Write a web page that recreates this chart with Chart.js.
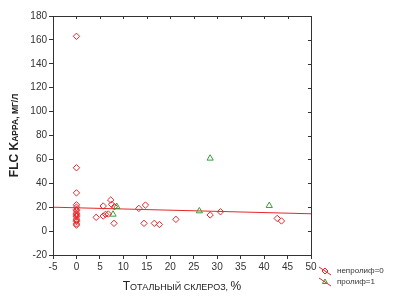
<!DOCTYPE html>
<html>
<head>
<meta charset="utf-8">
<script src="https://cdn.jsdelivr.net/npm/chart.js@4"></script>
<style>
  html, body { margin: 0; padding: 0; background: #fff; }
  #wrap { width: 399px; height: 302px; }
</style>
</head>
<body>
<div id="wrap"><canvas id="myChart"></canvas></div>
<script>
// непролиф=0 (red diamonds)
const nonX = [0, 0, 0, 0, 0, 0, 0, 0, 0, 0, 0, 0, 0, 0, 0, 0,
  4.2, 5.7, 5.7, 6.2, 6.8, 7.3, 7.5, 8.1, 8.0,
  13.3, 14.7, 14.4, 16.6, 17.7, 21.2, 28.5, 30.7, 42.8, 43.7];
const nonY = [163, 53, 32, 22, 20, 18, 17, 15, 14, 13, 12, 10, 9, 8, 6, 5,
  11.5, 21, 12.6, 14, 14.3, 26, 22.4, 20.4, 6.5,
  19, 21.8, 6.5, 6.5, 5.5, 9.8, 13.5, 16.2, 10.6, 8.5];
// пролиф=1 (green triangles)
const proX = [7.8, 8.6, 26.2, 28.5, 41.1];
const proY = [14, 20.4, 16.8, 60.9, 21.3];
// regression line
const fitX = [-5, 50];
const fitY = [20, 14.5];

const xTicks = { min: -5, max: 50, step: 5 };
const yTicks = { min: -20, max: 180, step: 20 };

const RED = '#e8262a';
const GREEN = '#3c9a3c';
const FONT = 'Arial, "Liberation Sans", sans-serif';

const toPts = (xs, ys) => xs.map((x, i) => ({ x: x, y: ys[i] }));

// small-caps text: [text, big?] segments
function smallCaps(ctx, parts, big, small, weight) {
  const segs = parts.map(p => ({ t: p[0], f: `${weight} ${p[1] ? big : small}px ${FONT}` }));
  let w = 0;
  segs.forEach(s => { ctx.font = s.f; s.w = ctx.measureText(s.t).width; w += s.w; });
  let x = -w / 2;
  ctx.textAlign = 'left';
  ctx.textBaseline = 'alphabetic';
  segs.forEach(s => { ctx.font = s.f; ctx.fillText(s.t, x, 0); x += s.w; });
}

const framePlugin = {
  id: 'frame',
  afterDraw(chart) {
    const { ctx, chartArea: a } = chart;
    const sx = chart.scales.x, sy = chart.scales.y;
    ctx.save();
    ctx.strokeStyle = '#333';
    ctx.lineWidth = 1;
    ctx.strokeRect(a.left + 0.5, a.top + 0.5, a.right - a.left, a.bottom - a.top);

    // inward ticks on top and right edges
    ctx.beginPath();
    sx.ticks.forEach(t => {
      const px = Math.round(sx.getPixelForValue(t.value)) + 0.5;
      ctx.moveTo(px, a.top); ctx.lineTo(px, a.top + 3);
    });
    sy.ticks.forEach(t => {
      const py = Math.round(sy.getPixelForValue(t.value)) + 0.5;
      ctx.moveTo(a.right, py); ctx.lineTo(a.right - 3, py);
    });
    ctx.stroke();

    // axis titles
    ctx.fillStyle = '#222';
    ctx.save();
    ctx.translate((a.left + a.right) / 2, 290);
    smallCaps(ctx, [['Т', true], ['ОТАЛЬНЫЙ СКЛЕРОЗ, ', false], ['%', true]], 12, 9, 'normal');
    ctx.restore();
    ctx.save();
    ctx.translate(18, (a.top + a.bottom) / 2);
    ctx.rotate(-Math.PI / 2);
    smallCaps(ctx, [['FLC K', true], ['APPA, МГ/Л', false]], 12, 8.5, 'bold');
    ctx.restore();

    // legend
    const items = [
      { text: 'непролиф=0', style: 'rectRot', color: RED },
      { text: 'пролиф=1', style: 'triangle', color: GREEN }
    ];
    items.forEach((it, i) => {
      const y = 271 + i * 11;
      const x = a.right + 14;
      ctx.lineWidth = 1;
      ctx.strokeStyle = RED;
      ctx.beginPath();
      ctx.moveTo(x - 6, y - 4);
      ctx.lineTo(x + 6, y + 4);
      ctx.stroke();
      ctx.strokeStyle = it.color;
      ctx.fillStyle = 'rgba(0,0,0,0)';
      Chart.helpers.drawPoint(ctx, { pointStyle: it.style, radius: 3, borderWidth: 1 }, x, y);
      ctx.fillStyle = '#333';
      ctx.font = '8px ' + FONT;
      ctx.textAlign = 'left';
      ctx.textBaseline = 'middle';
      ctx.fillText(it.text, x + 12, y);
    });
    ctx.restore();
  }
};

const ctx = document.getElementById('myChart');

new Chart(ctx, {
  type: 'scatter',
  data: {
    datasets: [
      {
        label: 'непролиф=0',
        data: toPts(nonX, nonY),
        pointStyle: 'rectRot',
        pointRadius: 3.2,
        borderColor: RED,
        backgroundColor: 'rgba(0,0,0,0)',
        borderWidth: 1
      },
      {
        label: 'пролиф=1',
        data: toPts(proX, proY),
        pointStyle: 'triangle',
        pointRadius: 3.6,
        borderColor: GREEN,
        backgroundColor: 'rgba(0,0,0,0)',
        borderWidth: 1
      },
      {
        label: 'fit',
        type: 'line',
        data: toPts(fitX, fitY),
        borderColor: RED,
        borderWidth: 1,
        pointRadius: 0,
        fill: false
      }
    ]
  },
  options: {
    responsive: true,
    maintainAspectRatio: false,
    animation: false,
    layout: { padding: { top: 16, right: 88, left: 0, bottom: 8 } },
    plugins: {
      legend: { display: false },
      tooltip: { enabled: false }
    },
    scales: {
      x: {
        type: 'linear',
        min: xTicks.min,
        max: xTicks.max,
        afterFit(scale) { scale.height = 39; },
        ticks: {
          stepSize: xTicks.step,
          color: '#333',
          font: { size: 10, family: FONT },
          padding: 2
        },
        grid: { display: true, drawOnChartArea: false, tickLength: 4, color: '#333' },
        border: { display: false }
      },
      y: {
        type: 'linear',
        min: yTicks.min,
        max: yTicks.max,
        afterFit(scale) { scale.width = 53; },
        ticks: {
          stepSize: yTicks.step,
          color: '#333',
          font: { size: 10, family: FONT },
          padding: 2
        },
        grid: { display: true, drawOnChartArea: false, tickLength: 4, color: '#333' },
        border: { display: false }
      }
    }
  },
  plugins: [framePlugin]
});
</script>
</body>
</html>
